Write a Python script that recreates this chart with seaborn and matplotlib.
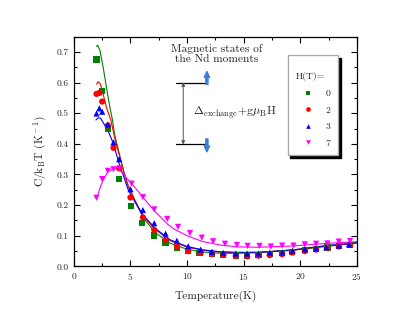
import numpy as np
import pandas as pd
import matplotlib
matplotlib.use('Agg')
import matplotlib.pyplot as plt
import seaborn as sns

# --- measured points (T in K, C/kBT in 1/K) ---
T_h0 = [2.0, 2.5, 3.0, 4.0, 5.05, 6.0, 7.05, 8.1, 9.1, 10.1, 11.1, 12.2, 13.2, 14.3,
        15.3, 16.3, 17.3, 18.4, 19.3, 20.4, 21.4, 22.4, 23.4, 24.4]
C_h0 = [0.675, 0.573, 0.450, 0.285, 0.197, 0.142, 0.101, 0.078, 0.061, 0.051, 0.044, 0.040,
        0.037, 0.036, 0.036, 0.038, 0.040, 0.044, 0.048, 0.053, 0.058, 0.062, 0.067, 0.071]

T_h2 = [2.0, 2.25, 2.5, 3.0, 3.5, 4.0, 5.0, 6.1, 7.1, 8.1, 9.1, 10.1, 11.2, 12.2, 13.2,
        14.3, 15.3, 16.3, 17.3, 18.4, 19.3, 20.4, 21.4, 22.4, 23.4, 24.4]
C_h2 = [0.563, 0.566, 0.538, 0.460, 0.387, 0.320, 0.225, 0.160, 0.119, 0.087, 0.065, 0.050,
        0.044, 0.040, 0.037, 0.034, 0.033, 0.035, 0.037, 0.040, 0.045, 0.050, 0.055, 0.060,
        0.065, 0.070]

T_h3 = [2.0, 2.25, 2.5, 3.0, 3.5, 4.0, 5.0, 6.1, 7.1, 8.1, 9.1, 10.1, 11.2, 12.2, 13.2,
        14.3, 15.3, 16.3, 17.3, 18.4, 19.3, 20.4, 21.4, 22.3, 23.4, 24.3]
C_h3 = [0.499, 0.516, 0.505, 0.463, 0.405, 0.350, 0.252, 0.184, 0.141, 0.107, 0.084, 0.066,
        0.055, 0.048, 0.044, 0.042, 0.042, 0.042, 0.045, 0.046, 0.051, 0.056, 0.059, 0.063,
        0.068, 0.072]

T_h7 = [2.0, 2.5, 3.0, 3.5, 4.0, 5.1, 6.1, 7.1, 8.25, 9.2, 10.25, 11.3, 12.3, 13.35, 14.4,
        15.35, 16.4, 17.4, 18.4, 19.4, 20.4, 21.4, 22.4, 23.4, 24.4]
C_h7 = [0.224, 0.285, 0.312, 0.317, 0.320, 0.270, 0.226, 0.186, 0.155, 0.129, 0.109, 0.094,
        0.082, 0.074, 0.070, 0.067, 0.067, 0.065, 0.068, 0.068, 0.072, 0.074, 0.075, 0.081,
        0.083]

# --- fitted curves ---
fT_h0 = [2.0, 2.1, 2.3, 2.6, 2.9, 3.2, 3.4, 3.6, 4.0, 4.4, 4.8, 5.4, 6.1, 7.2, 8.5, 10.0,
         11.4, 12.9, 14.4, 16.3, 19.4, 22.3, 25.0]
fC_h0 = [0.718, 0.722, 0.705, 0.647, 0.580, 0.515, 0.480, 0.430, 0.370, 0.310, 0.262, 0.215,
         0.160, 0.110, 0.076, 0.056, 0.047, 0.043, 0.043, 0.045, 0.053, 0.065, 0.077]

fT_h2 = [2.0, 2.15, 2.35, 2.6, 2.9, 3.25, 3.6, 4.0, 4.4, 4.8, 5.4, 6.1, 7.2, 8.5, 10.0,
         11.4, 12.9, 14.4, 16.3, 19.4, 22.3, 25.0]
fC_h2 = [0.595, 0.603, 0.595, 0.560, 0.516, 0.480, 0.420, 0.365, 0.310, 0.262, 0.215, 0.165,
         0.120, 0.084, 0.063, 0.053, 0.047, 0.045, 0.046, 0.054, 0.067, 0.077]

fT_h3 = [1.95, 2.15, 2.35, 2.8, 3.05, 3.5, 3.9, 4.8, 5.4, 6.1, 7.2, 8.5, 10.0, 11.4, 12.9,
         14.4, 16.3, 19.4, 22.3, 25.0]
fC_h3 = [0.478, 0.485, 0.484, 0.456, 0.440, 0.400, 0.347, 0.250, 0.210, 0.168, 0.124, 0.087,
         0.065, 0.054, 0.048, 0.046, 0.046, 0.054, 0.068, 0.077]

fT_h7 = [2.0, 2.5, 3.0, 3.5, 3.9, 4.3, 4.7, 5.7, 6.4, 7.2, 8.3, 8.9, 10.0, 11.4, 12.9, 14.4,
         16.3, 19.4, 22.3, 25.0]
fC_h7 = [0.222, 0.275, 0.310, 0.318, 0.320, 0.305, 0.287, 0.244, 0.212, 0.178, 0.137, 0.121,
         0.100, 0.081, 0.070, 0.064, 0.0625, 0.067, 0.075, 0.081]

fields = ["0", "2", "3", "7"]
colors = {"0": "#008000", "2": "#ff0000", "3": "#0000ff", "7": "#ff00ff"}
markers = {"0": "s", "2": "o", "3": "^", "7": "v"}

pts = pd.concat([
    pd.DataFrame({"T": T_h0, "C": C_h0, "H": "0"}),
    pd.DataFrame({"T": T_h2, "C": C_h2, "H": "2"}),
    pd.DataFrame({"T": T_h3, "C": C_h3, "H": "3"}),
    pd.DataFrame({"T": T_h7, "C": C_h7, "H": "7"}),
], ignore_index=True)
fits = pd.concat([
    pd.DataFrame({"T": fT_h0, "C": fC_h0, "H": "0"}),
    pd.DataFrame({"T": fT_h2, "C": fC_h2, "H": "2"}),
    pd.DataFrame({"T": fT_h3, "C": fC_h3, "H": "3"}),
    pd.DataFrame({"T": fT_h7, "C": fC_h7, "H": "7"}),
], ignore_index=True)

sns.set_style("ticks")
plt.rcParams['font.family'] = ['cmr10', 'DejaVu Serif']
plt.rcParams['mathtext.fontset'] = 'cm'
plt.rcParams['axes.formatter.use_mathtext'] = True
plt.rcParams['axes.unicode_minus'] = False

fig = plt.figure(figsize=(4.15, 3.21), dpi=100)
ax = fig.add_axes([0.178, 0.170, 0.682, 0.716])

sns.lineplot(data=fits, x="T", y="C", hue="H", hue_order=fields, palette=colors,
             sort=False, estimator=None, legend=False, lw=0.8, ax=ax)
sns.scatterplot(data=pts, x="T", y="C", hue="H", style="H", hue_order=fields,
                style_order=fields, palette=colors, markers=markers, s=20,
                linewidth=0, zorder=3, ax=ax)

handles, labels = ax.get_legend_handles_labels()
leg = ax.legend(handles, labels, title="\nH(T)=", loc="upper left",
                bbox_to_anchor=(0.738, 0.942), fontsize=7, title_fontsize=7,
                alignment="left", markerscale=0.75, handlelength=2.6,
                handletextpad=0.5, labelspacing=0.8, borderpad=0.8,
                fancybox=False, shadow={"color": "black", "alpha": 1},
                framealpha=1)
leg.get_frame().set_edgecolor("#aaaaaa")
leg.get_frame().set_linewidth(1.0)

# level scheme sketch
arrow_blue = "#3a7fd4"
ax.plot([9.0, 11.7], [0.600, 0.600], color="black", lw=0.9)
ax.plot([9.0, 11.7], [0.398, 0.398], color="black", lw=0.9)
ax.annotate("", xy=(9.66, 0.600), xytext=(9.66, 0.398),
            arrowprops=dict(arrowstyle="<|-|>", color="#555555", lw=0.7,
                            mutation_scale=5, shrinkA=0, shrinkB=0))
ax.annotate("", xy=(11.75, 0.636), xytext=(11.75, 0.594),
            arrowprops=dict(arrowstyle="simple,head_width=0.55,head_length=0.6,tail_width=0.22",
                            color=arrow_blue, mutation_scale=7, shrinkA=0, shrinkB=0))
ax.annotate("", xy=(11.75, 0.374), xytext=(11.75, 0.416),
            arrowprops=dict(arrowstyle="simple,head_width=0.55,head_length=0.6,tail_width=0.22",
                            color=arrow_blue, mutation_scale=7, shrinkA=0, shrinkB=0))
ax.text(12.6, 0.692, "Magnetic states of\nthe Nd moments", ha="center", va="center",
        fontsize=8.2, linespacing=1.05)
ax.text(10.5, 0.501, r"$\Delta_{\rm exchange}\!+\!{\rm g}\mu_{\rm B}{\rm H}$",
        ha="left", va="center", fontsize=8.5)

ax.set_xlim(0, 25)
ax.set_ylim(0, 0.75)
ax.set_xticks([0, 5, 10, 15, 20, 25])
ax.set_xticks(np.arange(2.5, 25, 5), minor=True)
ax.set_yticks(np.arange(0, 0.71, 0.1))
ax.set_yticks(np.arange(0.05, 0.75, 0.1), minor=True)
ax.yaxis.set_major_formatter(matplotlib.ticker.FormatStrFormatter("%.1f"))
ax.tick_params(which="both", direction="in", top=True, right=True, labelsize=6.8,
               width=0.8, color="black")
ax.tick_params(which="major", length=4)
ax.tick_params(which="minor", length=2)
for sp in ax.spines.values():
    sp.set_linewidth(0.9)
    sp.set_color("black")

ax.set_xlabel("Temperature(K)", fontsize=8.2, labelpad=6)
ax.set_ylabel(r"C/k$_{\rm B}$T (K$^{\rm -1}$)", fontsize=8.2, labelpad=6)

fig.savefig("out.png", dpi=100)
